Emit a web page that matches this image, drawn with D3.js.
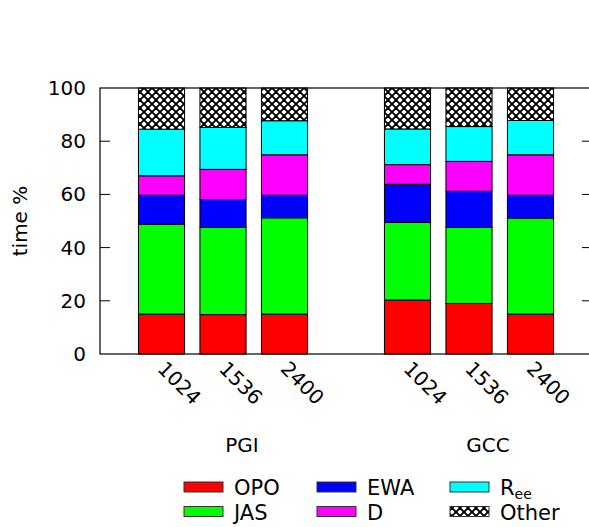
<!DOCTYPE html>
<html><head><meta charset="utf-8">
<script src="https://cdn.jsdelivr.net/npm/d3@7"></script>
<style>body{margin:0;background:#fff}svg{display:block;font-family:"DejaVu Sans",sans-serif}</style>
</head><body>
<svg id="c" width="589" height="527"></svg>
<script>
const groups = ["PGI", "GCC"];
const sizes = ["1024", "1536", "2400"];
const seriesNames = ["OPO", "JAS", "EWA", "D", "Ree", "Other"];
const colors = ["#ff0000", "#00ff00", "#0000ff", "#ff00ff", "#00ffff", "hatch"];
// values per bar: PGI 1024,1536,2400 then GCC 1024,1536,2400
const OPO   = [15.0, 14.8, 15.0, 20.3, 19.0, 15.0];
const JAS   = [33.8, 32.8, 36.2, 29.2, 28.6, 36.1];
const EWA   = [10.9, 10.5,  8.5, 14.3, 13.6,  8.6];
const D     = [ 7.3, 11.3, 15.2,  7.4, 11.2, 15.2];
const Ree   = [17.5, 15.8, 12.8, 13.4, 13.1, 12.9];
const Other = [15.5, 14.8, 12.3, 15.4, 14.5, 12.2];
const yTicks = [0, 20, 40, 60, 80, 100];

const svg = d3.select("#c");
const L = 100, T = 88, R = 592, B = 354;
const x = d3.scaleLinear().domain([-1, 7]).range([L, R]);
const y = d3.scaleLinear().domain([0, 100]).range([B, T]);
const slotW = x(1) - x(0);
const barW = slotW * 0.75;

const defs = svg.append("defs");
const pat = defs.append("pattern").attr("id", "hatch").attr("patternUnits", "userSpaceOnUse")
  .attr("width", 8).attr("height", 8);
pat.append("rect").attr("width", 8).attr("height", 8).attr("fill", "#fff");
pat.append("path").attr("d", "M0,0L8,8M8,0L0,8M-1,7L1,9M7,-1L9,1M7,9L9,7M-1,1L1,-1")
  .attr("stroke", "#000").attr("stroke-width", 1.9);

const rows = [];
groups.forEach((g, gi) => sizes.forEach((s, si) => {
  const k = gi * 3 + si;
  rows.push({group: g, size: s, slot: gi * 4 + si,
    OPO: OPO[k], JAS: JAS[k], EWA: EWA[k], D: D[k], Ree: Ree[k], Other: Other[k]});
}));
const stack = d3.stack().keys(seriesNames)(rows);
const fillOf = i => colors[i] === "hatch" ? "url(#hatch)" : colors[i];

stack.forEach((layer, li) => {
  svg.append("g").selectAll("rect").data(layer).join("rect")
    .attr("x", d => x(d.data.slot) - barW / 2)
    .attr("width", barW)
    .attr("y", d => y(d[1]))
    .attr("height", d => y(d[0]) - y(d[1]))
    .attr("fill", fillOf(li))
    .attr("stroke", "#000").attr("stroke-width", 1);
});

// frame
svg.append("rect").attr("x", L).attr("y", T).attr("width", R - L).attr("height", B - T)
  .attr("fill", "none").attr("stroke", "#000").attr("stroke-width", 1.2);
// ticks
const tk = yTicks.filter(v => v > 0 && v < 100);
svg.append("g").selectAll("path").data(tk).join("path")
  .attr("d", v => `M${L},${y(v)}h10M${R},${y(v)}h-10`)
  .attr("stroke", "#000").attr("stroke-width", 1);
svg.append("g").selectAll("text").data(yTicks).join("text")
  .attr("x", L - 14).attr("y", v => y(v)).attr("dy", "0.35em")
  .attr("text-anchor", "end").attr("font-size", 20).text(v => v);

svg.append("text").attr("transform", `translate(27,${(T + B) / 2}) rotate(-90)`)
  .attr("text-anchor", "middle").attr("font-size", 20).text("time %");

// x tick labels
svg.append("g").selectAll("text").data(rows).join("text")
  .attr("transform", d => `translate(${x(d.slot) - 5},370) rotate(45)`)
  .attr("font-size", 20).text(d => d.size);

// group labels
svg.append("g").selectAll("text").data(groups).join("text")
  .attr("x", (g, gi) => x(gi * 4 + 1) + 19).attr("y", 452)
  .attr("text-anchor", "middle").attr("font-size", 20).text(g => g);

// legend
const lg = svg.append("g");
seriesNames.forEach((n, i) => {
  const col = Math.floor(i / 2), row = i % 2;
  const sx = 184 + col * 133, sy = 482 + row * 24.5;
  lg.append("rect").attr("x", sx).attr("y", sy).attr("width", 39).attr("height", 10)
    .attr("fill", fillOf(i)).attr("stroke", "#333").attr("stroke-width", 1);
  const t = lg.append("text").attr("x", sx + 50).attr("y", sy + 13).attr("font-size", 21);
  if (n === "Ree") {
    t.append("tspan").text("R");
    t.append("tspan").attr("font-size", 14).attr("dy", 4).text("ee");
  } else t.text(n);
});
</script>
</body></html>
